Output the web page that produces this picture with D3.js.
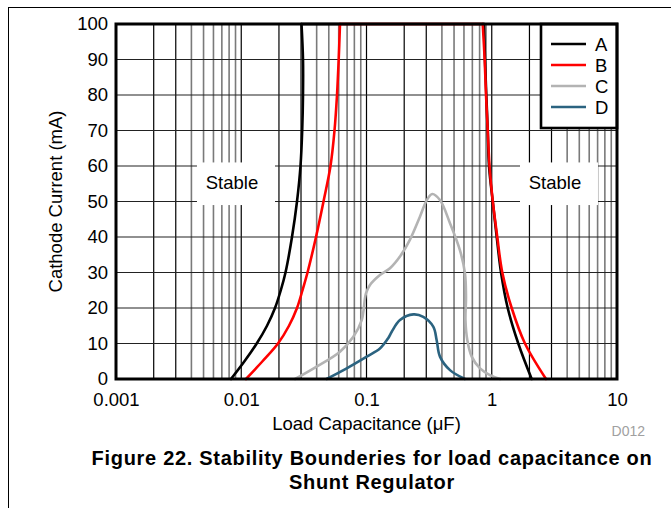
<!DOCTYPE html>
<html>
<head>
<meta charset="utf-8">
<script src="https://cdn.jsdelivr.net/npm/d3@7"></script>
<style>
  html, body { margin: 0; padding: 0; background: #fff; }
  svg { display: block; font-family: "Liberation Sans", Arial, Helvetica, sans-serif; }
</style>
</head>
<body>
<svg id="chart" width="671" height="508"></svg>
<script>
// ---------- data ----------
const xTickValues = [0.001, 0.01, 0.1, 1, 10];
const xTickLabels = ["0.001", "0.01", "0.1", "1", "10"];
const yTickValues = [0, 10, 20, 30, 40, 50, 60, 70, 80, 90, 100];
const seriesNames = ["A", "B", "C", "D"];
const seriesColors = ["#000000", "#ff0000", "#b3b3b3", "#2b6380"];

// A: left boundary (bottom -> top), right boundary (top -> bottom)
const capA_left  = [0.00828, 0.01061, 0.01329, 0.01606, 0.01860, 0.02069, 0.02256, 0.02542, 0.02787, 0.02972, 0.03066, 0.03112, 0.03112, 0.03027];
const mA_A_left  = [0, 5, 10, 15, 20, 25, 30, 40, 50, 60, 70, 80, 90, 100];
const capA_right = [0.867, 0.883, 0.905, 0.929, 0.951, 1.018, 1.096, 1.186, 1.341, 1.629, 2.084];
const mA_A_right = [100, 90, 80, 70, 60, 50, 40, 30, 20, 10, 0];

// B
const capB_left  = [0.01091, 0.01478, 0.01965, 0.02406, 0.02787, 0.03083, 0.03381, 0.03953, 0.04537, 0.05159, 0.05553, 0.05815, 0.05998, 0.06143];
const mA_B_left  = [0, 5, 10, 15, 20, 25, 30, 40, 50, 60, 70, 80, 90, 100];
const capB_right = [0.847, 0.878, 0.900, 0.929, 0.960, 1.020, 1.107, 1.214, 1.443, 1.842, 2.712];
const mA_B_right = [100, 90, 80, 70, 60, 50, 40, 30, 20, 10, 0];

// C
const capC = [0.0269, 0.040, 0.0614, 0.0785, 0.0916, 0.099, 0.1066, 0.128, 0.154, 0.185, 0.222, 0.267, 0.303, 0.335, 0.386, 0.464, 0.557, 0.611, 0.623, 0.617, 0.638, 0.692, 0.806, 0.968, 1.164];
const mA_C = [0, 3.5, 7.7, 11.9, 16.6, 24.1, 26.5, 29.3, 31.2, 34.5, 39.2, 45.7, 50.4, 52.1, 50.4, 43.9, 36.3, 29.8, 23.2, 16.6, 11.0, 6.3, 3.0, 1.1, 0];

// D
const capD = [0.048, 0.0695, 0.1004, 0.128, 0.149, 0.159, 0.185, 0.237, 0.284, 0.342, 0.363, 0.386, 0.464, 0.611];
const mA_D = [0, 3.0, 6.3, 8.6, 11.5, 13.3, 16.6, 18.2, 17.5, 14.7, 11.0, 6.3, 2.5, 0];

// stable regions: [from, to] capacitance, [low, high] current
const stableCap = [[0.00443, 0.0186], [1.681, 7.05]];
const stableMA = [49, 61];

// ---------- layout ----------
const svg = d3.select("#chart");
const L = 116, R = 617, T = 24, B = 379;
const x = d3.scaleLog().domain([0.001, 10]).range([L, R]);
const y = d3.scaleLinear().domain([0, 100]).range([B, T]);
const FONT = 18.5;

// page frame (top and left rules)
svg.append("line").attr("x1", 8).attr("x2", 671).attr("y1", 7.5).attr("y2", 7.5).attr("stroke", "#000").attr("stroke-width", 1);
svg.append("line").attr("x1", 8.5).attr("x2", 8.5).attr("y1", 7).attr("y2", 508).attr("stroke", "#000").attr("stroke-width", 1);

// ---------- grid ----------
const grid = svg.append("g");
const minorVals = [];
for (let e = -3; e < 1; e++) {
  for (let m = 1; m <= 9; m++) {
    const v = m * Math.pow(10, e);
    if (v > 0.001 && v < 10) minorVals.push({ v, m });
  }
}
grid.selectAll("line.v").data(minorVals).enter().append("line")
  .attr("x1", d => x(d.v)).attr("x2", d => x(d.v))
  .attr("y1", T).attr("y2", B)
  .attr("stroke", d => d.m <= 3 ? "#000" : "#7a7a7a")
  .attr("stroke-width", d => d.m <= 3 ? 1.2 : 1.6);
grid.selectAll("line.h").data(yTickValues.filter(v => v > 0 && v < 100)).enter().append("line")
  .attr("x1", L).attr("x2", R)
  .attr("y1", d => y(d)).attr("y2", d => y(d))
  .attr("stroke", "#222").attr("stroke-width", 1.2);

// "Stable" regions (white boxes covering grid)
stableCap.forEach(c => {
  svg.append("rect")
    .attr("x", x(c[0])).attr("y", y(stableMA[1]))
    .attr("width", x(c[1]) - x(c[0])).attr("height", y(stableMA[0]) - y(stableMA[1]))
    .attr("fill", "#fff");
  svg.append("text")
    .attr("x", (x(c[0]) + x(c[1])) / 2 - 4).attr("y", y(55.4))
    .attr("dy", "0.35em").attr("text-anchor", "middle")
    .attr("font-size", FONT).attr("fill", "#000").text("Stable");
});

// ---------- curves ----------
const smooth = d3.line().x(d => x(d[0])).y(d => y(d[1])).curve(d3.curveCatmullRom.alpha(0.5));
const straight = d3.line().x(d => x(d[0])).y(d => y(d[1]));
const zip = (a, b) => a.map((v, i) => [v, b[i]]);
const curves = svg.append("g").attr("fill", "none").attr("stroke-linejoin", "round").attr("stroke-linecap", "round");

function drawBoundary(capL, mAL, capR, mAR, color) {
  curves.append("path").attr("d", smooth(zip(capL, mAL))).attr("stroke", color).attr("stroke-width", 2.6);
  curves.append("path").attr("d", straight([[capL[capL.length - 1], 100], [capR[0], 100]])).attr("stroke", color).attr("stroke-width", 2.6);
  curves.append("path").attr("d", smooth(zip(capR, mAR))).attr("stroke", color).attr("stroke-width", 2.6);
}
drawBoundary(capA_left, mA_A_left, capA_right, mA_A_right, seriesColors[0]);
drawBoundary(capB_left, mA_B_left, capB_right, mA_B_right, seriesColors[1]);
curves.append("path").attr("d", smooth(zip(capC, mA_C))).attr("stroke", seriesColors[2]).attr("stroke-width", 2.6);
curves.append("path").attr("d", smooth(zip(capD, mA_D))).attr("stroke", seriesColors[3]).attr("stroke-width", 2.6);

// ---------- legend ----------
const lg = svg.append("g");
lg.append("rect").attr("x", 541).attr("y", T).attr("width", R - 541).attr("height", 104)
  .attr("fill", "#fff").attr("stroke", "#000").attr("stroke-width", 2.6);
seriesNames.forEach((n, i) => {
  const yy = 44 + i * 21;
  lg.append("line").attr("x1", 551).attr("x2", 586).attr("y1", yy).attr("y2", yy)
    .attr("stroke", seriesColors[i]).attr("stroke-width", 2.6);
  lg.append("text").attr("x", 595).attr("y", yy).attr("dy", "0.36em")
    .attr("font-size", FONT).text(n);
});

// ---------- plot border ----------
svg.append("rect").attr("x", L).attr("y", T).attr("width", R - L).attr("height", B - T)
  .attr("fill", "none").attr("stroke", "#000").attr("stroke-width", 3);

// ---------- axes ----------
const yAxis = d3.axisLeft(y).tickValues(yTickValues).tickSize(0).tickPadding(8).tickFormat(d3.format("d"));
const gy = svg.append("g").attr("transform", `translate(${L},0)`).call(yAxis);
const xAxis = d3.axisBottom(x).tickValues(xTickValues).tickSize(0).tickPadding(14)
  .tickFormat((d, i) => xTickLabels[i]);
const gx = svg.append("g").attr("transform", `translate(0,${B})`).call(xAxis);
[gx, gy].forEach(g => {
  g.select(".domain").remove();
  g.selectAll("text").attr("font-size", FONT).attr("fill", "#000")
    .attr("font-family", '"Liberation Sans", Arial, sans-serif');
});

// axis titles
const xt = svg.append("text").attr("x", (L + R) / 2).attr("y", 430).attr("text-anchor", "middle")
  .attr("font-size", FONT);
xt.append("tspan").text("Load Capacitance (");
xt.append("tspan").text("\u03BC");
xt.append("tspan").text("F)");
svg.append("text").attr("transform", `translate(62,${(T + B) / 2}) rotate(-90)`)
  .attr("text-anchor", "middle").attr("font-size", FONT).text("Cathode Current (mA)");

svg.append("text").attr("x", 645).attr("y", 436).attr("text-anchor", "end")
  .attr("font-size", 14).attr("fill", "#a0a0a0").text("D012");

// caption
const cap = svg.append("text").attr("text-anchor", "middle").attr("font-weight", "bold")
  .attr("font-size", 20).attr("letter-spacing", 0.7);
cap.append("tspan").attr("x", 372).attr("y", 465).text("Figure 22. Stability Bounderies for load capacitance on");
cap.append("tspan").attr("x", 372).attr("y", 489).text("Shunt Regulator");
</script>
</body>
</html>
